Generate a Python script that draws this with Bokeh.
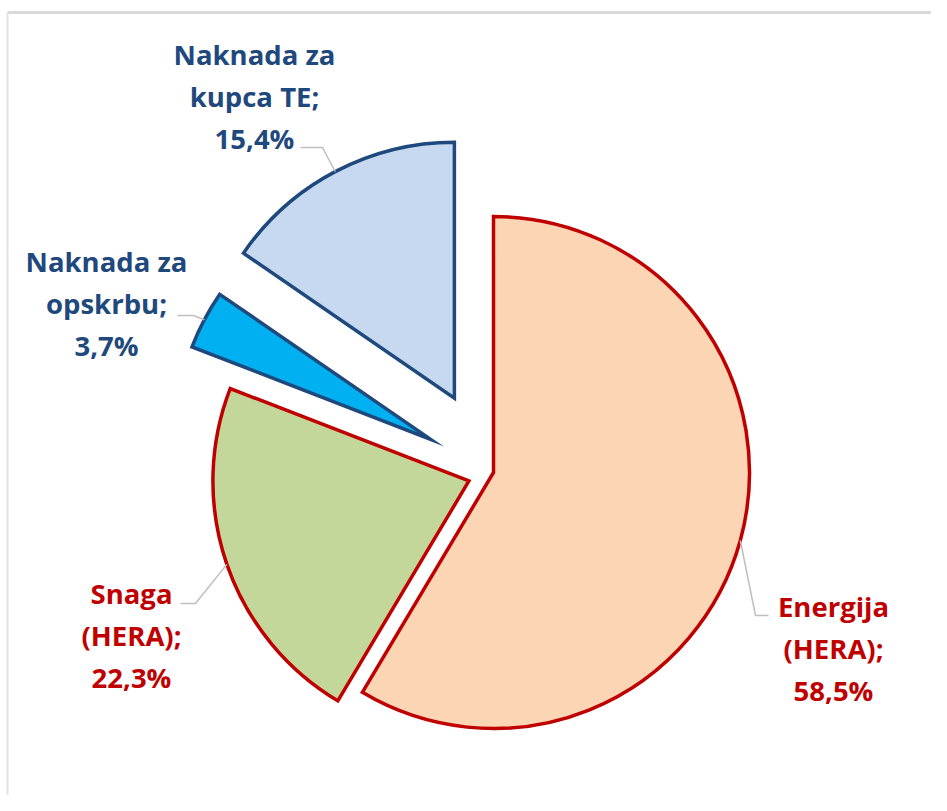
import math
from bokeh.plotting import figure
from bokeh.models import Range1d
from bokeh.embed import file_html
from bokeh.resources import INLINE
from bokeh.core.properties import value

# ---- data ----
categories = ["Energija (HERA)", "Snaga (HERA)", "Naknada za opskrbu", "Naknada za kupca TE"]
shares = [58.5, 22.3, 3.7, 15.4]
name_lines = [["Energija", "(HERA);"], ["Snaga", "(HERA);"],
              ["Naknada za", "opskrbu;"], ["Naknada za", "kupca TE;"]]

# ---- style ----
fills = ["#FCD5B5", "#C4D79B", "#00B0F0", "#C6D9F1"]
edges = ["#C00000", "#C00000", "#1F497D", "#1F497D"]
explode = [0, 26, 71, 84]
# label centre x / first baseline (px) and leader elbow points (px)
label_pos = [(833, 606), (131, 593), (106, 261), (254, 54)]
leader_pts = [[(768, 615), (755, 615)], [(180, 603), (195, 603)],
              [(177, 315), (193, 315)], [(300, 147), (322, 147)]]
LINE_SP = 42
FONT = "Open Sans"
FSIZE = "27.5px"

W, H = 931, 795
CX, CY_IMG, R = 493, 472, 256


def ydat(y_img):
    return H - y_img


p = figure(width=W, height=H, x_range=Range1d(0, W), y_range=Range1d(0, H),
           x_axis_type=None, y_axis_type=None, toolbar_location=None,
           output_backend="svg", min_border=0, outline_line_color=None,
           background_fill_color="white", border_fill_color="white")
p.grid.visible = False

# chart-area frame (top and left edge visible)
p.line([7, W], [ydat(12), ydat(12)], line_color="#D9D9D9", line_width=3)
p.line([7, 7], [ydat(12), 0], line_color="#E3E3E3", line_width=2)

total = sum(shares)
cum = 0.0
for i, v in enumerate(shares):
    t0 = cum / total * 360.0
    cum += v
    t1 = cum / total * 360.0
    mid = math.radians((t0 + t1) / 2)
    ax = CX + explode[i] * math.sin(mid)
    ay = ydat(CY_IMG) + explode[i] * math.cos(mid)
    p.wedge(x=[ax], y=[ay], radius=R, start_angle=90 - t1, end_angle=90 - t0,
            start_angle_units="deg", end_angle_units="deg",
            fill_color=fills[i], line_color=edges[i], line_width=3.5, line_join="miter")
    # leader line
    ex = ax + R * math.sin(mid)
    ey = ay + R * math.cos(mid)
    xs = [pt[0] for pt in leader_pts[i]] + [ex]
    ys = [ydat(pt[1]) for pt in leader_pts[i]] + [ey]
    p.line(xs, ys, line_color="#BFBFBF", line_width=1.5)
    # label
    pct = f"{v:.1f}".replace(".", ",") + "%"
    lines = name_lines[i] + [pct]
    lx, ly = label_pos[i]
    p.text(x=[lx] * len(lines), y=[ydat(ly + k * LINE_SP) for k in range(len(lines))],
           text=lines, text_align="center", text_baseline="alphabetic",
           text_font=value(FONT), text_font_style="bold", text_font_size=FSIZE,
           text_color=edges[i])

open("out.html", "w").write(file_html(p, INLINE))
